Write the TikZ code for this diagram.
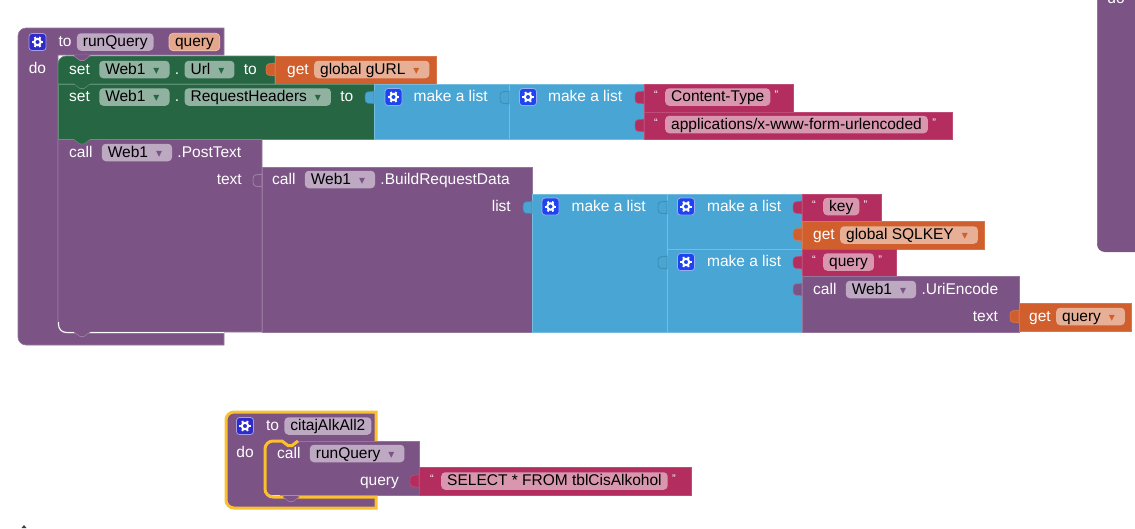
\documentclass[tikz,border=0pt]{standalone}
\usepackage{fontspec}
\setmainfont{Liberation Sans}
\newfontfamily\symfont{DejaVu Sans}
\usetikzlibrary{positioning}
\definecolor{ProcPurple}{HTML}{7C5385}
\definecolor{SetGreen}{HTML}{266643}
\definecolor{VarOrange}{HTML}{D05F2D}
\definecolor{ListBlue}{HTML}{49A6D4}
\definecolor{TextPink}{HTML}{B32D5E}
\definecolor{GlowYellow}{HTML}{FBC02D}
\definecolor{ToGear}{HTML}{2E2ACB}
\definecolor{ListGear}{HTML}{1E44F0}
\tikzset{
  bpur/.style={fill=ProcPurple,draw=ProcPurple!80!white,line width=.6pt},
  bgrn/.style={fill=SetGreen,draw=SetGreen!75!white,line width=.6pt},
  bora/.style={fill=VarOrange,draw=VarOrange!85!white,line width=.6pt},
  bblu/.style={fill=ListBlue,draw=ListBlue!75!white,line width=.6pt},
  bpnk/.style={fill=TextPink,draw=TextPink!85!white,line width=.6pt},
  lbl/.style={font=\fontsize{15.5}{17}\selectfont,text=white,inner sep=0pt,text height=12pt,text depth=2.5pt},
  fld/.style={lbl,text=black,inner xsep=6pt,inner ysep=1.5pt,rounded corners=4pt,fill=#1},
  quo/.style={lbl,font=\fontsize{11}{13}\selectfont},
  gearbox/.style={fill=#1,draw=white!55!#1,line width=.8pt,rounded corners=3pt,minimum size=17pt,inner sep=0pt}
}
\newcommand{\arrdn}[1]{\hspace{8pt}{\color{#1}\symfont\fontsize{12}{12}\selectfont ▾}\hspace{4pt}\null}
\newcommand{\oquote}{\raisebox{3pt}{“}}
\newcommand{\cquote}{\raisebox{3pt}{”}}
% left tab of a value block
\newcommand{\vtab}[3]{\draw[#1] (#2,#3+7) .. controls (#2-5,#3+9) and (#2-9,#3+5) .. (#2-9,#3+13.5) .. controls (#2-9,#3+22) and (#2-5,#3+18) .. (#2,#3+20) -- cycle;}
\newcommand{\notch}[3]{\fill[#1,rounded corners=1.5pt] (#2,#3-1) -- (#2,#3) -- (#2+6,#3+4.5) -- (#2+10,#3+4.5) -- (#2+16,#3) -- (#2+16,#3-1) -- cycle;
  \draw[#1!75!white,line width=.6pt] (#2,#3) -- (#2+6,#3+4.5) -- (#2+10,#3+4.5) -- (#2+16,#3);}
\newcommand{\cog}[1]{\draw[white,line width=2pt] (#1) circle[radius=3.2pt];
  \foreach \a in {0,60,...,300} \draw[white,line width=2pt] (#1) ++(\a:3.5pt) -- ++(\a:2.2pt);}

\begin{document}
\begin{tikzpicture}[x=1pt,y=-1pt]
  \useasboundingbox (0,0) rectangle (1135,528);
  \clip (0,0) rectangle (1135,528);
  % block cut off at the top right
  \fill[ProcPurple] (1097,-20) [rounded corners=8pt] -- (1097,252) [sharp corners] -- (1135,252) -- (1135,-20) -- cycle;
  \draw[ProcPurple!80!white,line width=.6pt] (1097,0) -- (1097,244);
  \node[lbl] (dotop) at (1116,-1) {do};
  % runQuery frame
  \draw[bpur] (224,55) -- (224,28) [rounded corners=8pt] -- (18,28) -- (18,345) [sharp corners] -- (224,345) -- (224,333) [rounded corners=8pt] -- (58,333) [sharp corners] -- (58,55) -- cycle;
  % set blocks
  \draw[bgrn] (58,84) [rounded corners=8pt] -- (58,56) [sharp corners] -- (275,56) -- (275,84) -- cycle;
  \draw[bora] (275,56) rectangle (436,84);
  \vtab{bora}{275}{56}
  \draw[bgrn] (58,84) rectangle (374,139.5);
  \draw[bblu] (374,84) rectangle (509,139.5);
  \vtab{bblu,draw=ListBlue!80!black}{374}{84}
  \draw[bblu] (509,84) rectangle (644,139.5);
  \vtab{bblu,draw=ListBlue!80!black}{509}{84}
  \draw[bpnk] (644,84) rectangle (793,112);
  \vtab{bpnk}{644}{84}
  \draw[bpnk] (644,112) rectangle (952,139.5);
  \vtab{bpnk}{644}{112}
  % web request
  \draw[bpur] (58,139.5) [rounded corners=8pt] -- (58,332) [sharp corners] -- (262,332) -- (262,139.5) -- cycle;
  \draw[bpur] (262,167) rectangle (532,332);
  \vtab{bpur,draw=ProcPurple!65!white}{262}{167}
  \draw[bblu] (532,194) rectangle (667,332);
  \vtab{bblu,draw=ListBlue!80!black}{532}{194}
  \draw[bblu] (667,194) rectangle (802,249);
  \vtab{bblu,draw=ListBlue!80!black}{667}{194}
  \draw[bblu] (667,249) rectangle (802,332);
  \vtab{bblu,draw=ListBlue!80!black}{667}{249}
  \draw[bpnk] (802,194) rectangle (881,221);
  \vtab{bpnk}{802}{194}
  \draw[bora] (802,221) rectangle (984,249);
  \vtab{bora}{802}{221}
  \draw[bpnk] (802,249) rectangle (896,276);
  \vtab{bpnk}{802}{249}
  \draw[bpur] (802,276) rectangle (1019,332);
  \vtab{bpur}{802}{276}
  \draw[bora] (1019,303) rectangle (1131,331);
  \vtab{bora}{1019}{303}
  \draw[white,line width=1pt] (58.5,322) [rounded corners=8pt] -- (58.5,332.5) [sharp corners] -- (224,332.5);
  \notch{ProcPurple}{74}{56}
  \notch{SetGreen}{74}{84}
  \notch{SetGreen}{74}{139.5}
  \notch{ProcPurple}{74}{332}
  % citajAlkAll2 frame
  \fill[ProcPurple] (376,441) -- (376,412) [rounded corners=8pt] -- (226,412) -- (226,508) [sharp corners] -- (376,508) -- (376,497) [rounded corners=8pt] -- (265,497) -- (265,441) [sharp corners] -- cycle;
  \fill[ProcPurple] (419,441) [rounded corners=8pt] -- (264,441) -- (264,495) [sharp corners] -- (419,495) -- cycle;
  \draw[ProcPurple!80!white,line width=.6pt] (298,441) -- (419,441) -- (419,495) -- (280,495);
  \notch{ProcPurple}{282}{441}
  \draw[GlowYellow,line width=3pt] (376,441) -- (376,412) [rounded corners=8pt] -- (226,412) -- (226,508) [sharp corners] -- (376,508) -- (376,497) [rounded corners=8pt] -- (265,497) -- (265,441) [sharp corners] -- (282,441) -- (288,445.5) -- (292,445.5) -- (298,441);
  \notch{ProcPurple}{283}{497}
  \draw[bpnk] (419,467.5) rectangle (691,495);
  \vtab{bpnk}{419}{467.5}
  % texts of runQuery
  \node[gearbox=ToGear] (gearRun) at (37.5,42) {};
  \cog{gearRun}
  \node[lbl,right=12pt of gearRun] (toRun) {to};
  \node[fld=ProcPurple!50!white,right=5pt of toRun] (nameRun) {runQuery};
  \node[fld=VarOrange!55!white,draw=VarOrange!35!white,line width=.6pt,right=15pt of nameRun] (argRun) {query};
  \node[lbl,anchor=center] (doRun) at (37.5,69) {do};
  % texts of the set blocks
  \node[lbl,anchor=west] (setUrl) at (69,69.5) {set};
  \node[fld=SetGreen!50!white,right=9pt of setUrl] (webUrl) {Web1\arrdn{SetGreen}};
  \node[lbl,right=5pt of webUrl] (dotUrl) {.};
  \node[fld=SetGreen!50!white,right=5pt of dotUrl] (propUrl) {Url\arrdn{SetGreen}};
  \node[lbl,right=9pt of propUrl] (toUrl) {to};
  \node[lbl,anchor=west] (getUrl) at (287,69.5) {get};
  \node[fld=VarOrange!50!white,right=5pt of getUrl] (varUrl) {global gURL\arrdn{VarOrange}};
  \node[lbl,anchor=west] (setHead) at (69,97) {set};
  \node[fld=SetGreen!50!white,right=9pt of setHead] (webHead) {Web1\arrdn{SetGreen}};
  \node[lbl,right=5pt of webHead] (dotHead) {.};
  \node[fld=SetGreen!50!white,right=5pt of dotHead] (propHead) {RequestHeaders\arrdn{SetGreen}};
  \node[lbl,right=9pt of propHead] (toHead) {to};
  \node[gearbox=ListGear] (gearA) at (393.5,97) {};
  \cog{gearA}
  \node[lbl,right=11pt of gearA] (listA) {make a list};
  \node[gearbox=ListGear] (gearB) at (528,97) {};
  \cog{gearB}
  \node[lbl,right=11pt of gearB] (listB) {make a list};
  \node[quo,anchor=west] (lqType) at (654,97) {\oquote};
  \node[fld=TextPink!50!white,anchor=west] (strType) at (665,97) {Content-Type};
  \node[quo,right=4pt of strType] (rqType) {\cquote};
  \node[quo,anchor=west] (lqForm) at (654,124.5) {\oquote};
  \node[fld=TextPink!50!white,anchor=west] (strForm) at (665,124.5) {applications/x-www-form-urlencoded};
  \node[quo,right=4pt of strForm] (rqForm) {\cquote};
  % texts of the web request
  \node[lbl,anchor=west] (callPost) at (69,152.5) {call};
  \node[fld=ProcPurple!50!white,right=9pt of callPost] (webPost) {Web1\arrdn{ProcPurple}};
  \node[lbl,right=5pt of webPost] (post) {.PostText};
  \node[lbl,anchor=east] (argText) at (242,179.5) {text};
  \node[lbl,anchor=west] (callData) at (272,179.5) {call};
  \node[fld=ProcPurple!50!white,right=9pt of callData] (webData) {Web1\arrdn{ProcPurple}};
  \node[lbl,right=5pt of webData] (data) {.BuildRequestData};
  \node[lbl,anchor=east] (argList) at (511,206.5) {list};
  \node[gearbox=ListGear] (gearC) at (550.5,206.5) {};
  \cog{gearC}
  \node[lbl,right=12pt of gearC] (listC) {make a list};
  \node[gearbox=ListGear] (gearD) at (686,206.5) {};
  \cog{gearD}
  \node[lbl,right=12pt of gearD] (listD) {make a list};
  \node[quo,anchor=west] (lqKey) at (812,206.5) {\oquote};
  \node[fld=TextPink!50!white,anchor=west] (strKey) at (823,206.5) {key};
  \node[quo,right=4pt of strKey] (rqKey) {\cquote};
  \node[lbl,anchor=west] (getKey) at (813,235) {get};
  \node[fld=VarOrange!50!white,right=5pt of getKey] (varKey) {global SQLKEY\arrdn{VarOrange}};
  \node[gearbox=ListGear] (gearE) at (686,262) {};
  \cog{gearE}
  \node[lbl,right=12pt of gearE] (listE) {make a list};
  \node[quo,anchor=west] (lqQuery) at (812,262) {\oquote};
  \node[fld=TextPink!50!white,anchor=west] (strQuery) at (823,262) {query};
  \node[quo,right=4pt of strQuery] (rqQuery) {\cquote};
  \node[lbl,anchor=west] (callUri) at (813,289.5) {call};
  \node[fld=ProcPurple!50!white,right=9pt of callUri] (webUri) {Web1\arrdn{ProcPurple}};
  \node[lbl,right=5pt of webUri] (uri) {.UriEncode};
  \node[lbl,anchor=east] (argUri) at (998,316.5) {text};
  \node[lbl,anchor=west] (getUri) at (1029,316.5) {get};
  \node[fld=VarOrange!50!white,right=5pt of getUri] (varUri) {query\arrdn{VarOrange}};
  % texts of citajAlkAll2
  \node[gearbox=ToGear] (gearAlk) at (245,426) {};
  \cog{gearAlk}
  \node[lbl,right=12pt of gearAlk] (toAlk) {to};
  \node[fld=ProcPurple!50!white,right=5pt of toAlk] (nameAlk) {citajAlkAll2};
  \node[lbl,anchor=center] (doAlk) at (245,453) {do};
  \node[lbl,anchor=west] (callRun) at (277,453.5) {call};
  \node[fld=ProcPurple!50!white,right=9pt of callRun] (procRun) {runQuery\arrdn{ProcPurple}};
  \node[lbl,anchor=east] (argQuery) at (399,481) {query};
  \node[quo,anchor=west] (lqSql) at (430,481) {\oquote};
  \node[fld=TextPink!50!white,anchor=west] (strSql) at (441,481) {SELECT * FROM tblCisAlkohol};
  \node[quo,right=4pt of strSql] (rqSql) {\cquote};
  % stray mark at the bottom edge
  \fill[black!75] (21.5,528) -- (24,525) -- (26.5,528) -- cycle;
\end{tikzpicture}
\end{document}
